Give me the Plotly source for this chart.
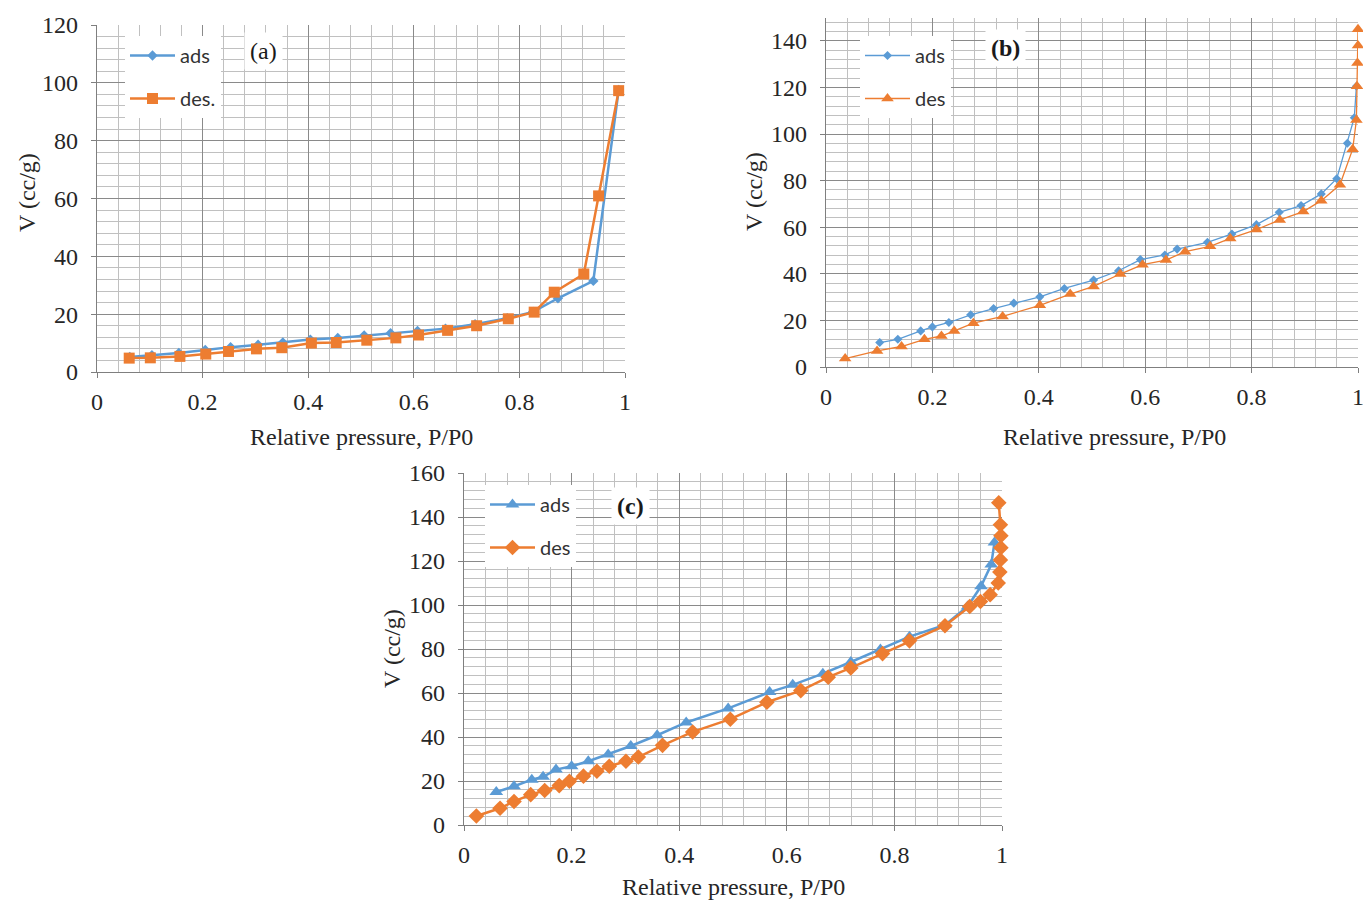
import plotly.graph_objects as go

# ---- isotherm data: relative pressure P/P0 and adsorbed volume V (cc/g) ----
# sample (a)
a_p_ads = [0.062, 0.104, 0.155, 0.205, 0.253, 0.305, 0.352, 0.404, 0.456, 0.506,
           0.556, 0.607, 0.660, 0.716, 0.777, 0.826, 0.873, 0.940, 0.988]
a_v_ads = [5.2, 5.8, 6.6, 7.6, 8.6, 9.4, 10.2, 11.2, 11.8, 12.6,
           13.4, 14.2, 15.0, 16.5, 18.6, 20.8, 25.5, 31.5, 97.5]
a_p_des = [0.061, 0.101, 0.157, 0.206, 0.249, 0.302, 0.350, 0.406, 0.453, 0.511,
           0.566, 0.609, 0.664, 0.719, 0.779, 0.828, 0.866, 0.922, 0.950, 0.988]
a_v_des = [4.8, 4.9, 5.4, 6.2, 7.1, 8.0, 8.4, 10.0, 10.2, 11.0,
           11.8, 12.8, 14.4, 16.0, 18.4, 20.7, 27.6, 33.9, 60.9, 97.3]

# sample (b)
b_p_ads = [0.101, 0.135, 0.178, 0.200, 0.231, 0.272, 0.315, 0.353, 0.402, 0.448,
           0.503, 0.550, 0.591, 0.637, 0.660, 0.717, 0.763, 0.809, 0.852, 0.893,
           0.931, 0.960, 0.980, 0.993, 0.997]
b_v_ads = [10.5, 11.9, 15.5, 17.2, 19.1, 22.4, 25.1, 27.4, 30.1, 33.7,
           37.3, 41.3, 46.1, 48.1, 50.6, 53.5, 57.1, 61.1, 66.4, 69.3,
           74.3, 80.8, 96.0, 107.0, 120.5]
b_p_des = [0.036, 0.096, 0.142, 0.185, 0.217, 0.241, 0.277, 0.332, 0.402, 0.459,
           0.503, 0.553, 0.595, 0.639, 0.675, 0.722, 0.760, 0.809, 0.853, 0.897,
           0.931, 0.966, 0.990, 0.997, 0.998, 0.999, 1.000, 1.000]
b_v_des = [3.6, 6.9, 8.8, 11.9, 13.3, 15.5, 18.8, 21.7, 26.5, 31.3,
           34.6, 39.9, 43.9, 45.9, 49.5, 51.8, 55.2, 59.0, 63.1, 66.7,
           71.4, 78.2, 93.5, 106.0, 120.5, 130.5, 138.0, 145.0]

# sample (c)
c_p_ads = [0.060, 0.093, 0.126, 0.147, 0.171, 0.200, 0.231, 0.268, 0.310, 0.359,
           0.413, 0.491, 0.568, 0.611, 0.667, 0.719, 0.774, 0.828, 0.894, 0.936,
           0.961, 0.980, 0.986]
c_v_ads = [15.0, 17.6, 20.6, 21.9, 25.2, 26.7, 29.0, 32.1, 35.9, 40.8,
           46.6, 53.0, 60.4, 63.7, 68.8, 74.1, 79.8, 85.6, 90.9, 99.3,
           108.5, 118.4, 128.4]
c_p_des = [0.023, 0.067, 0.093, 0.124, 0.150, 0.177, 0.196, 0.222, 0.247, 0.270,
           0.301, 0.324, 0.369, 0.425, 0.495, 0.563, 0.626, 0.677, 0.719, 0.778,
           0.828, 0.894, 0.940, 0.960, 0.978, 0.993, 0.996, 0.997, 0.998, 0.998,
           0.997, 0.994]
c_v_des = [4.1, 7.6, 10.7, 13.8, 15.7, 17.9, 19.9, 22.2, 24.4, 26.7,
           29.0, 30.9, 36.2, 42.3, 48.1, 55.8, 61.1, 67.2, 71.4, 77.9,
           83.7, 90.6, 99.3, 101.6, 104.7, 110.0, 115.0, 120.5, 126.0, 131.5,
           136.5, 146.5]

x_ticks = [0, 0.2, 0.4, 0.6, 0.8, 1]

BLUE = "#5B9BD5"
ORANGE = "#ED7D31"
SERIF = "Liberation Serif"
SANS = "Lato"
W, H = 1363, 900


def px_x(v):
    return v / W


def px_y(v):
    return 1 - v / H


fig = go.Figure()

# (a)
fig.add_trace(go.Scatter(x=a_p_ads, y=a_v_ads, name="ads", mode="lines+markers",
                         line=dict(color=BLUE, width=2.5),
                         marker=dict(symbol="diamond", size=8, color=BLUE),
                         xaxis="x", yaxis="y", legend="legend", legendgroup="a1",
                         cliponaxis=False))
fig.add_trace(go.Scatter(x=a_p_des, y=a_v_des, name="des.", mode="lines+markers",
                         line=dict(color=ORANGE, width=2.5),
                         marker=dict(symbol="square", size=11, color=ORANGE),
                         xaxis="x", yaxis="y", legend="legend", legendgroup="a2",
                         cliponaxis=False))
# (b)
fig.add_trace(go.Scatter(x=b_p_ads, y=b_v_ads, name="ads", mode="lines+markers",
                         line=dict(color=BLUE, width=1.3),
                         marker=dict(symbol="diamond", size=7, color=BLUE),
                         xaxis="x2", yaxis="y2", legend="legend2", legendgroup="b1",
                         cliponaxis=False))
fig.add_trace(go.Scatter(x=b_p_des, y=b_v_des, name="des", mode="lines+markers",
                         line=dict(color=ORANGE, width=1.3),
                         marker=dict(symbol="triangle-up", size=11, color=ORANGE),
                         xaxis="x2", yaxis="y2", legend="legend2", legendgroup="b2",
                         cliponaxis=False))
# (c)
fig.add_trace(go.Scatter(x=c_p_ads, y=c_v_ads, name="ads", mode="lines+markers",
                         line=dict(color=BLUE, width=2.5),
                         marker=dict(symbol="triangle-up", size=12, color=BLUE),
                         xaxis="x3", yaxis="y3", legend="legend3", legendgroup="c1",
                         cliponaxis=False))
fig.add_trace(go.Scatter(x=c_p_des, y=c_v_des, name="des", mode="lines+markers",
                         line=dict(color=ORANGE, width=2.5),
                         marker=dict(symbol="diamond", size=12, color=ORANGE),
                         xaxis="x3", yaxis="y3", legend="legend3", legendgroup="c2",
                         cliponaxis=False))

tick_font = dict(family=SERIF, size=24, color="#262626")
MAJOR = "#8a8a8a"
MINOR = "#c0c0c0"


def xaxis(domain, anchor):
    return dict(domain=domain, anchor=anchor, range=[0, 1], tickvals=x_ticks,
                showgrid=True, gridcolor=MAJOR, gridwidth=1.2,
                minor=dict(dtick=0.04, tick0=0, showgrid=True, gridcolor=MINOR, gridwidth=1),
                showline=True, linecolor="#7f7f7f", linewidth=1.2, zeroline=False,
                ticks="outside", ticklen=5, tickcolor="#7f7f7f", automargin=False,
                ticklabeloverflow="allow",
                ticklabelstandoff=3, tickfont=tick_font, fixedrange=True)


def yaxis(domain, anchor, top):
    return dict(domain=domain, anchor=anchor, range=[0, top], dtick=20, tick0=0,
                showgrid=True, gridcolor=MAJOR, gridwidth=1.2,
                minor=dict(dtick=4, tick0=0, showgrid=True, gridcolor=MINOR, gridwidth=1),
                showline=True, linecolor="#7f7f7f", linewidth=1.2, zeroline=False,
                ticks="outside", ticklen=5, tickcolor="#7f7f7f", automargin=False,
                ticklabeloverflow="allow",
                ticklabelstandoff=8, tickfont=tick_font, fixedrange=True)


dom_a = ([px_x(97), px_x(625)], [px_y(372), px_y(25)])
dom_b = ([px_x(826), px_x(1358)], [px_y(367), px_y(17.5)])
dom_c = ([px_x(464), px_x(1002)], [px_y(825), px_y(473)])


def legend_at(x, y):
    return dict(x=px_x(x), y=px_y(y), xanchor="left", yanchor="top",
                bgcolor="white", borderwidth=0, traceorder="grouped",
                tracegroupgap=14, itemwidth=45,
                font=dict(family=SANS, size=20, color="#333333"))


annotations = []
title_font = dict(family=SERIF, size=24, color="#262626")
for cx, cy in [(361, 437), (1114, 437), (733, 887)]:
    annotations.append(dict(x=px_x(cx), y=px_y(cy), xref="paper", yref="paper",
                            text="Relative pressure, P/P0", showarrow=False,
                            xanchor="center", yanchor="middle", font=title_font))
for cx, cy in [(27, 192), (754, 192), (392, 649)]:
    annotations.append(dict(x=px_x(cx), y=px_y(cy), xref="paper", yref="paper",
                            text="V (cc/g)", textangle=-90, showarrow=False,
                            xanchor="center", yanchor="middle", font=title_font))
for txt, cx, cy in [("(a)", 263, 51), ("<b>(b)</b>", 1005, 48), ("<b>(c)</b>", 630, 506)]:
    annotations.append(dict(x=px_x(cx), y=px_y(cy), xref="paper", yref="paper",
                            text=txt, showarrow=False, xanchor="center", yanchor="middle",
                            bgcolor="white", borderpad=5,
                            font=dict(family=SERIF, size=24, color="#1a1a1a")))

fig.update_layout(
    width=W, height=H,
    margin=dict(l=0, r=0, t=0, b=0, autoexpand=False),
    paper_bgcolor="white", plot_bgcolor="white",
    xaxis=xaxis(dom_a[0], "y"), yaxis=yaxis(dom_a[1], "x", 120),
    xaxis2=xaxis(dom_b[0], "y2"), yaxis2=yaxis(dom_b[1], "x2", 150),
    xaxis3=xaxis(dom_c[0], "y3"), yaxis3=yaxis(dom_c[1], "x3", 160),
    legend=legend_at(125, 36),
    legend2=legend_at(860, 36),
    legend3=legend_at(485, 485),
    annotations=annotations,
    showlegend=True,
)

fig.write_html("out.html")
